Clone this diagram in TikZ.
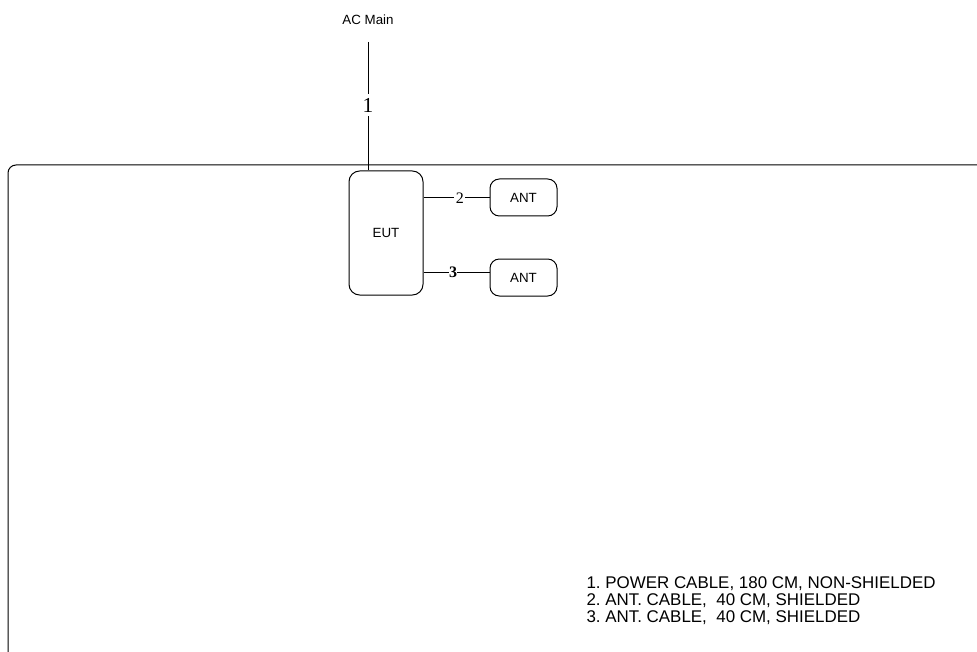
\documentclass[tikz,border=0pt]{standalone}
\usepackage{fontspec}
\setmainfont{Liberation Sans}
\newfontfamily\serifnum{Liberation Serif}
\frenchspacing
\begin{document}
\begin{tikzpicture}[x=0.75pt,y=-0.75pt,
  line width=0.75pt,
  box/.style={draw, rounded corners=7pt, minimum width=#1, inner sep=0pt, font=\fontsize{10}{12}\selectfont},
  num/.style={fill=white, inner sep=1pt, font=\serifnum\fontsize{12}{12}\selectfont}]
\useasboundingbox (0,0) rectangle (977,652);
\begin{scope}
\clip (0,0) rectangle (977,652);
\draw[rounded corners=6pt] (1000,165) -- (8,165) -- (8,700);
\end{scope}
\node[font=\fontsize{10}{12}\selectfont] (ac) at (368,20) {AC Main};
\node[box=55.5pt, minimum height=93pt, rounded corners=8pt] (eut) at (386,233) {EUT};
\node[box=50.25pt, minimum height=27.75pt] (ant1) at (523.5,197.5) {ANT};
\node[box=50.25pt, minimum height=27.75pt] (ant2) at (523.5,277.5) {ANT};
\coordinate (p1) at (368,42);
\coordinate (y2) at (0,198);
\coordinate (y3) at (0,272);
\draw (p1) -- node[num, pos=0.49, font=\serifnum\fontsize{16}{16}\selectfont, inner sep=3pt] {1} (p1 |- eut.north);
\draw (eut.east |- y2) -- node[num, pos=0.55] {2} (ant1.west |- y2);
\draw (eut.east |- y3) -- node[num, pos=0.45, font=\serifnum\bfseries\fontsize{12}{12}\selectfont, inner sep=0pt] {3} (ant2.west |- y3);
\node[anchor=west, align=left, inner sep=0pt, font=\fontsize{12.7}{12.75}\selectfont] (legend) at (586,601)
  {1. POWER CABLE, 180 CM, NON-SHIELDED\\2. ANT. CABLE,\ \ 40 CM, SHIELDED\\3. ANT. CABLE,\ \ 40 CM, SHIELDED};
\end{tikzpicture}
\end{document}
